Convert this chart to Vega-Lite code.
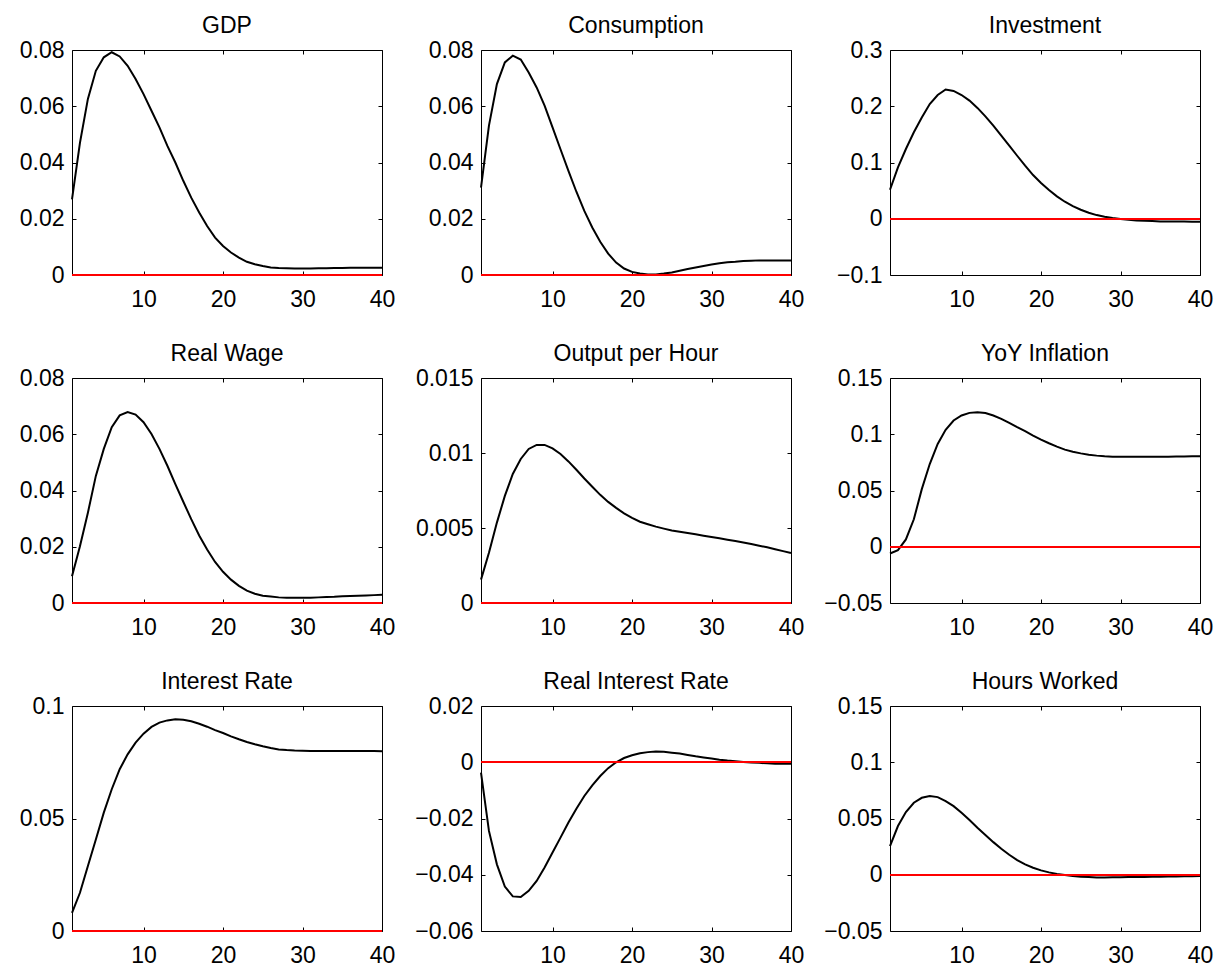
{
  "$schema": "https://vega.github.io/schema/vega-lite/v6.json",
  "background": "white",
  "padding": {"left": 18, "top": 14, "right": 5, "bottom": 5},
  "config": {
    "font": "Liberation Sans",
    "view": {"stroke": "black", "strokeWidth": 1},
    "axis": {"domain": false, "grid": false, "ticks": true, "tickColor": "black", "tickSize": -4, "tickWidth": 1, "labelFontSize": 23, "labelColor": "black", "labelFont": "Liberation Sans", "labelOverlap": false, "labelFlush": false, "minExtent": 0},
    "axisBottom": {"labelPadding": 17},
    "axisLeft": {"labelPadding": 12},
    "axisTop": {"labelPadding": 0, "maxExtent": 0},
    "axisRight": {"labelPadding": 0, "maxExtent": 0},
    "title": {"fontSize": 23, "fontWeight": "normal", "color": "black", "font": "Liberation Sans", "offset": 1, "baseline": "alphabetic", "anchor": "middle"}
  },
  "data": {"values": [
    {"t": 1, "gdp": 0.0269, "cons": 0.0311, "inv": 0.0516, "wage": 0.0095, "oph": 0.00156, "infl": -0.006, "ir": 0.0081, "rir": -0.0037, "hours": 0.0255},
    {"t": 2, "gdp": 0.047, "cons": 0.0531, "inv": 0.0914, "wage": 0.0202, "oph": 0.00335, "infl": -0.003, "ir": 0.017, "rir": -0.0244, "hours": 0.0433},
    {"t": 3, "gdp": 0.0626, "cons": 0.0679, "inv": 0.124, "wage": 0.0321, "oph": 0.00536, "infl": 0.0065, "ir": 0.0289, "rir": -0.0363, "hours": 0.0557},
    {"t": 4, "gdp": 0.0726, "cons": 0.0756, "inv": 0.1537, "wage": 0.0452, "oph": 0.00714, "infl": 0.0244, "ir": 0.0407, "rir": -0.0442, "hours": 0.064},
    {"t": 5, "gdp": 0.0774, "cons": 0.078, "inv": 0.18, "wage": 0.0548, "oph": 0.0086, "infl": 0.0512, "ir": 0.0526, "rir": -0.0477, "hours": 0.0684},
    {"t": 6, "gdp": 0.0792, "cons": 0.0766, "inv": 0.204, "wage": 0.0625, "oph": 0.0096, "infl": 0.0735, "ir": 0.063, "rir": -0.0479, "hours": 0.0699},
    {"t": 7, "gdp": 0.0777, "cons": 0.072, "inv": 0.22, "wage": 0.0667, "oph": 0.01027, "infl": 0.0914, "ir": 0.0719, "rir": -0.0457, "hours": 0.069},
    {"t": 8, "gdp": 0.0744, "cons": 0.0667, "inv": 0.2297, "wage": 0.0679, "oph": 0.01054, "infl": 0.1039, "ir": 0.0785, "rir": -0.0422, "hours": 0.0655},
    {"t": 9, "gdp": 0.0697, "cons": 0.0602, "inv": 0.2273, "wage": 0.067, "oph": 0.01054, "infl": 0.1122, "ir": 0.0837, "rir": -0.0374, "hours": 0.061},
    {"t": 10, "gdp": 0.0643, "cons": 0.0525, "inv": 0.22, "wage": 0.0643, "oph": 0.01031, "infl": 0.1167, "ir": 0.0877, "rir": -0.0321, "hours": 0.0551},
    {"t": 11, "gdp": 0.0584, "cons": 0.0447, "inv": 0.21, "wage": 0.0601, "oph": 0.00993, "infl": 0.119, "ir": 0.0907, "rir": -0.0268, "hours": 0.0486},
    {"t": 12, "gdp": 0.0525, "cons": 0.037, "inv": 0.197, "wage": 0.0548, "oph": 0.00944, "infl": 0.1196, "ir": 0.0926, "rir": -0.0214, "hours": 0.0418},
    {"t": 13, "gdp": 0.0459, "cons": 0.0296, "inv": 0.182, "wage": 0.0488, "oph": 0.00888, "infl": 0.1188, "ir": 0.0936, "rir": -0.0165, "hours": 0.0353},
    {"t": 14, "gdp": 0.04, "cons": 0.0228, "inv": 0.1656, "wage": 0.0423, "oph": 0.0083, "infl": 0.1167, "ir": 0.0941, "rir": -0.012, "hours": 0.029},
    {"t": 15, "gdp": 0.0335, "cons": 0.0169, "inv": 0.1478, "wage": 0.036, "oph": 0.00775, "infl": 0.1137, "ir": 0.0939, "rir": -0.0082, "hours": 0.0231},
    {"t": 16, "gdp": 0.0275, "cons": 0.0118, "inv": 0.13, "wage": 0.0298, "oph": 0.00721, "infl": 0.1101, "ir": 0.0932, "rir": -0.0049, "hours": 0.0178},
    {"t": 17, "gdp": 0.0222, "cons": 0.0076, "inv": 0.112, "wage": 0.024, "oph": 0.00674, "infl": 0.1063, "ir": 0.0921, "rir": -0.0021, "hours": 0.013},
    {"t": 18, "gdp": 0.0174, "cons": 0.0044, "inv": 0.0944, "wage": 0.019, "oph": 0.00634, "infl": 0.1027, "ir": 0.0908, "rir": 0.0, "hours": 0.0092},
    {"t": 19, "gdp": 0.0133, "cons": 0.0023, "inv": 0.0777, "wage": 0.0146, "oph": 0.00598, "infl": 0.0988, "ir": 0.0893, "rir": 0.0015, "hours": 0.0062},
    {"t": 20, "gdp": 0.0103, "cons": 0.0011, "inv": 0.0635, "wage": 0.0111, "oph": 0.00567, "infl": 0.0952, "ir": 0.088, "rir": 0.0025, "hours": 0.0039},
    {"t": 21, "gdp": 0.008, "cons": 0.0005, "inv": 0.051, "wage": 0.0083, "oph": 0.00542, "infl": 0.092, "ir": 0.0865, "rir": 0.0032, "hours": 0.0021},
    {"t": 22, "gdp": 0.0062, "cons": 0.0002, "inv": 0.0398, "wage": 0.0061, "oph": 0.00525, "infl": 0.089, "ir": 0.0852, "rir": 0.0036, "hours": 0.0006},
    {"t": 23, "gdp": 0.0047, "cons": 0.0002, "inv": 0.0303, "wage": 0.0044, "oph": 0.00509, "infl": 0.0863, "ir": 0.084, "rir": 0.0038, "hours": -0.0003},
    {"t": 24, "gdp": 0.0038, "cons": 0.0005, "inv": 0.0226, "wage": 0.0033, "oph": 0.00496, "infl": 0.0845, "ir": 0.083, "rir": 0.0037, "hours": -0.0012},
    {"t": 25, "gdp": 0.0032, "cons": 0.0009, "inv": 0.016, "wage": 0.0026, "oph": 0.00484, "infl": 0.083, "ir": 0.0821, "rir": 0.0034, "hours": -0.0018},
    {"t": 26, "gdp": 0.0027, "cons": 0.0015, "inv": 0.0107, "wage": 0.0023, "oph": 0.00475, "infl": 0.0818, "ir": 0.0813, "rir": 0.0031, "hours": -0.0021},
    {"t": 27, "gdp": 0.0025, "cons": 0.0021, "inv": 0.0065, "wage": 0.002, "oph": 0.00467, "infl": 0.081, "ir": 0.0807, "rir": 0.0026, "hours": -0.0024},
    {"t": 28, "gdp": 0.0024, "cons": 0.0027, "inv": 0.0036, "wage": 0.0019, "oph": 0.00458, "infl": 0.0804, "ir": 0.0804, "rir": 0.0021, "hours": -0.0024},
    {"t": 29, "gdp": 0.0023, "cons": 0.0032, "inv": 0.0012, "wage": 0.0019, "oph": 0.00449, "infl": 0.0801, "ir": 0.0802, "rir": 0.0017, "hours": -0.0023},
    {"t": 30, "gdp": 0.0023, "cons": 0.0037, "inv": -0.0006, "wage": 0.0019, "oph": 0.0044, "infl": 0.0801, "ir": 0.0801, "rir": 0.0013, "hours": -0.0022},
    {"t": 31, "gdp": 0.0023, "cons": 0.0042, "inv": -0.0018, "wage": 0.0019, "oph": 0.00431, "infl": 0.08, "ir": 0.08, "rir": 0.0009, "hours": -0.0021},
    {"t": 32, "gdp": 0.0024, "cons": 0.0045, "inv": -0.003, "wage": 0.002, "oph": 0.00422, "infl": 0.08, "ir": 0.08, "rir": 0.0006, "hours": -0.002},
    {"t": 33, "gdp": 0.0024, "cons": 0.0047, "inv": -0.0036, "wage": 0.0021, "oph": 0.00413, "infl": 0.08, "ir": 0.08, "rir": 0.0004, "hours": -0.0019},
    {"t": 34, "gdp": 0.0025, "cons": 0.005, "inv": -0.0042, "wage": 0.0022, "oph": 0.00404, "infl": 0.08, "ir": 0.08, "rir": 0.0001, "hours": -0.0018},
    {"t": 35, "gdp": 0.0025, "cons": 0.0051, "inv": -0.0047, "wage": 0.0024, "oph": 0.00393, "infl": 0.0801, "ir": 0.08, "rir": -0.0001, "hours": -0.0017},
    {"t": 36, "gdp": 0.0026, "cons": 0.0052, "inv": -0.0048, "wage": 0.0025, "oph": 0.00382, "infl": 0.0801, "ir": 0.08, "rir": -0.0002, "hours": -0.0016},
    {"t": 37, "gdp": 0.0026, "cons": 0.0052, "inv": -0.0049, "wage": 0.0026, "oph": 0.00371, "infl": 0.0802, "ir": 0.08, "rir": -0.0004, "hours": -0.0015},
    {"t": 38, "gdp": 0.0026, "cons": 0.0052, "inv": -0.005, "wage": 0.0027, "oph": 0.00359, "infl": 0.0803, "ir": 0.08, "rir": -0.0005, "hours": -0.0014},
    {"t": 39, "gdp": 0.0026, "cons": 0.0052, "inv": -0.0052, "wage": 0.0028, "oph": 0.00346, "infl": 0.0804, "ir": 0.08, "rir": -0.0005, "hours": -0.0013},
    {"t": 40, "gdp": 0.0026, "cons": 0.0052, "inv": -0.0053, "wage": 0.0029, "oph": 0.00333, "infl": 0.0804, "ir": 0.0799, "rir": -0.0005, "hours": -0.0012}
  ]},
  "columns": 3,
  "bounds": "flush",
  "spacing": {"row": 103, "column": 99},
  "concat": [
    {"title": "GDP", "width": 310, "height": 225,
     "layer": [
      {"mark": {"type": "line", "color": "black", "strokeWidth": 2},
       "encoding": {
        "x": {"field": "t", "type": "quantitative", "title": null, "scale": {"domain": [1, 40], "nice": false}, "axis": {"orient": "bottom", "values": [10, 20, 30, 40]}},
        "y": {"field": "gdp", "type": "quantitative", "title": null, "scale": {"domain": [0, 0.08], "nice": false, "zero": false}, "axis": {"orient": "left", "values": [0, 0.02, 0.04, 0.06, 0.08], "format": ".4~g"}}}},
      {"mark": {"type": "line", "strokeOpacity": 0},
       "encoding": {
        "x": {"field": "t", "type": "quantitative", "title": null, "scale": {"domain": [1, 40], "nice": false}, "axis": {"orient": "top", "values": [10, 20, 30, 40], "labels": false}},
        "y": {"field": "gdp", "type": "quantitative", "title": null, "scale": {"domain": [0, 0.08], "nice": false, "zero": false}, "axis": {"orient": "right", "values": [0, 0.02, 0.04, 0.06, 0.08], "labels": false}}}},
      {"mark": {"type": "rule", "color": "#ff0000", "strokeWidth": 1}, "encoding": {"y": {"datum": 0, "axis": null}}}
     ],
     "resolve": {"axis": {"x": "independent", "y": "independent"}}},
    {"title": "Consumption", "width": 310, "height": 225,
     "layer": [
      {"mark": {"type": "line", "color": "black", "strokeWidth": 2},
       "encoding": {
        "x": {"field": "t", "type": "quantitative", "title": null, "scale": {"domain": [1, 40], "nice": false}, "axis": {"orient": "bottom", "values": [10, 20, 30, 40]}},
        "y": {"field": "cons", "type": "quantitative", "title": null, "scale": {"domain": [0, 0.08], "nice": false, "zero": false}, "axis": {"orient": "left", "values": [0, 0.02, 0.04, 0.06, 0.08], "format": ".4~g"}}}},
      {"mark": {"type": "line", "strokeOpacity": 0},
       "encoding": {
        "x": {"field": "t", "type": "quantitative", "title": null, "scale": {"domain": [1, 40], "nice": false}, "axis": {"orient": "top", "values": [10, 20, 30, 40], "labels": false}},
        "y": {"field": "cons", "type": "quantitative", "title": null, "scale": {"domain": [0, 0.08], "nice": false, "zero": false}, "axis": {"orient": "right", "values": [0, 0.02, 0.04, 0.06, 0.08], "labels": false}}}},
      {"mark": {"type": "rule", "color": "#ff0000", "strokeWidth": 1}, "encoding": {"y": {"datum": 0, "axis": null}}}
     ],
     "resolve": {"axis": {"x": "independent", "y": "independent"}}},
    {"title": "Investment", "width": 310, "height": 225,
     "layer": [
      {"mark": {"type": "line", "color": "black", "strokeWidth": 2},
       "encoding": {
        "x": {"field": "t", "type": "quantitative", "title": null, "scale": {"domain": [1, 40], "nice": false}, "axis": {"orient": "bottom", "values": [10, 20, 30, 40]}},
        "y": {"field": "inv", "type": "quantitative", "title": null, "scale": {"domain": [-0.1, 0.3], "nice": false, "zero": false}, "axis": {"orient": "left", "values": [-0.1, 0, 0.1, 0.2, 0.3], "format": ".4~g"}}}},
      {"mark": {"type": "line", "strokeOpacity": 0},
       "encoding": {
        "x": {"field": "t", "type": "quantitative", "title": null, "scale": {"domain": [1, 40], "nice": false}, "axis": {"orient": "top", "values": [10, 20, 30, 40], "labels": false}},
        "y": {"field": "inv", "type": "quantitative", "title": null, "scale": {"domain": [-0.1, 0.3], "nice": false, "zero": false}, "axis": {"orient": "right", "values": [-0.1, 0, 0.1, 0.2, 0.3], "labels": false}}}},
      {"mark": {"type": "rule", "color": "#ff0000", "strokeWidth": 1}, "encoding": {"y": {"datum": 0, "axis": null}}}
     ],
     "resolve": {"axis": {"x": "independent", "y": "independent"}}},
    {"title": "Real Wage", "width": 310, "height": 225,
     "layer": [
      {"mark": {"type": "line", "color": "black", "strokeWidth": 2},
       "encoding": {
        "x": {"field": "t", "type": "quantitative", "title": null, "scale": {"domain": [1, 40], "nice": false}, "axis": {"orient": "bottom", "values": [10, 20, 30, 40]}},
        "y": {"field": "wage", "type": "quantitative", "title": null, "scale": {"domain": [0, 0.08], "nice": false, "zero": false}, "axis": {"orient": "left", "values": [0, 0.02, 0.04, 0.06, 0.08], "format": ".4~g"}}}},
      {"mark": {"type": "line", "strokeOpacity": 0},
       "encoding": {
        "x": {"field": "t", "type": "quantitative", "title": null, "scale": {"domain": [1, 40], "nice": false}, "axis": {"orient": "top", "values": [10, 20, 30, 40], "labels": false}},
        "y": {"field": "wage", "type": "quantitative", "title": null, "scale": {"domain": [0, 0.08], "nice": false, "zero": false}, "axis": {"orient": "right", "values": [0, 0.02, 0.04, 0.06, 0.08], "labels": false}}}},
      {"mark": {"type": "rule", "color": "#ff0000", "strokeWidth": 1}, "encoding": {"y": {"datum": 0, "axis": null}}}
     ],
     "resolve": {"axis": {"x": "independent", "y": "independent"}}},
    {"title": "Output per Hour", "width": 310, "height": 225,
     "layer": [
      {"mark": {"type": "line", "color": "black", "strokeWidth": 2},
       "encoding": {
        "x": {"field": "t", "type": "quantitative", "title": null, "scale": {"domain": [1, 40], "nice": false}, "axis": {"orient": "bottom", "values": [10, 20, 30, 40]}},
        "y": {"field": "oph", "type": "quantitative", "title": null, "scale": {"domain": [0, 0.015], "nice": false, "zero": false}, "axis": {"orient": "left", "values": [0, 0.005, 0.01, 0.015], "format": ".4~g"}}}},
      {"mark": {"type": "line", "strokeOpacity": 0},
       "encoding": {
        "x": {"field": "t", "type": "quantitative", "title": null, "scale": {"domain": [1, 40], "nice": false}, "axis": {"orient": "top", "values": [10, 20, 30, 40], "labels": false}},
        "y": {"field": "oph", "type": "quantitative", "title": null, "scale": {"domain": [0, 0.015], "nice": false, "zero": false}, "axis": {"orient": "right", "values": [0, 0.005, 0.01, 0.015], "labels": false}}}},
      {"mark": {"type": "rule", "color": "#ff0000", "strokeWidth": 1}, "encoding": {"y": {"datum": 0, "axis": null}}}
     ],
     "resolve": {"axis": {"x": "independent", "y": "independent"}}},
    {"title": "YoY Inflation", "width": 310, "height": 225,
     "layer": [
      {"mark": {"type": "line", "color": "black", "strokeWidth": 2},
       "encoding": {
        "x": {"field": "t", "type": "quantitative", "title": null, "scale": {"domain": [1, 40], "nice": false}, "axis": {"orient": "bottom", "values": [10, 20, 30, 40]}},
        "y": {"field": "infl", "type": "quantitative", "title": null, "scale": {"domain": [-0.05, 0.15], "nice": false, "zero": false}, "axis": {"orient": "left", "values": [-0.05, 0, 0.05, 0.1, 0.15], "format": ".4~g"}}}},
      {"mark": {"type": "line", "strokeOpacity": 0},
       "encoding": {
        "x": {"field": "t", "type": "quantitative", "title": null, "scale": {"domain": [1, 40], "nice": false}, "axis": {"orient": "top", "values": [10, 20, 30, 40], "labels": false}},
        "y": {"field": "infl", "type": "quantitative", "title": null, "scale": {"domain": [-0.05, 0.15], "nice": false, "zero": false}, "axis": {"orient": "right", "values": [-0.05, 0, 0.05, 0.1, 0.15], "labels": false}}}},
      {"mark": {"type": "rule", "color": "#ff0000", "strokeWidth": 1}, "encoding": {"y": {"datum": 0, "axis": null}}}
     ],
     "resolve": {"axis": {"x": "independent", "y": "independent"}}},
    {"title": "Interest Rate", "width": 310, "height": 225,
     "layer": [
      {"mark": {"type": "line", "color": "black", "strokeWidth": 2},
       "encoding": {
        "x": {"field": "t", "type": "quantitative", "title": null, "scale": {"domain": [1, 40], "nice": false}, "axis": {"orient": "bottom", "values": [10, 20, 30, 40]}},
        "y": {"field": "ir", "type": "quantitative", "title": null, "scale": {"domain": [0, 0.1], "nice": false, "zero": false}, "axis": {"orient": "left", "values": [0, 0.05, 0.1], "format": ".4~g"}}}},
      {"mark": {"type": "line", "strokeOpacity": 0},
       "encoding": {
        "x": {"field": "t", "type": "quantitative", "title": null, "scale": {"domain": [1, 40], "nice": false}, "axis": {"orient": "top", "values": [10, 20, 30, 40], "labels": false}},
        "y": {"field": "ir", "type": "quantitative", "title": null, "scale": {"domain": [0, 0.1], "nice": false, "zero": false}, "axis": {"orient": "right", "values": [0, 0.05, 0.1], "labels": false}}}},
      {"mark": {"type": "rule", "color": "#ff0000", "strokeWidth": 1}, "encoding": {"y": {"datum": 0, "axis": null}}}
     ],
     "resolve": {"axis": {"x": "independent", "y": "independent"}}},
    {"title": "Real Interest Rate", "width": 310, "height": 225,
     "layer": [
      {"mark": {"type": "line", "color": "black", "strokeWidth": 2},
       "encoding": {
        "x": {"field": "t", "type": "quantitative", "title": null, "scale": {"domain": [1, 40], "nice": false}, "axis": {"orient": "bottom", "values": [10, 20, 30, 40]}},
        "y": {"field": "rir", "type": "quantitative", "title": null, "scale": {"domain": [-0.06, 0.02], "nice": false, "zero": false}, "axis": {"orient": "left", "values": [-0.06, -0.04, -0.02, 0, 0.02], "format": ".4~g"}}}},
      {"mark": {"type": "line", "strokeOpacity": 0},
       "encoding": {
        "x": {"field": "t", "type": "quantitative", "title": null, "scale": {"domain": [1, 40], "nice": false}, "axis": {"orient": "top", "values": [10, 20, 30, 40], "labels": false}},
        "y": {"field": "rir", "type": "quantitative", "title": null, "scale": {"domain": [-0.06, 0.02], "nice": false, "zero": false}, "axis": {"orient": "right", "values": [-0.06, -0.04, -0.02, 0, 0.02], "labels": false}}}},
      {"mark": {"type": "rule", "color": "#ff0000", "strokeWidth": 1}, "encoding": {"y": {"datum": 0, "axis": null}}}
     ],
     "resolve": {"axis": {"x": "independent", "y": "independent"}}},
    {"title": "Hours Worked", "width": 310, "height": 225,
     "layer": [
      {"mark": {"type": "line", "color": "black", "strokeWidth": 2},
       "encoding": {
        "x": {"field": "t", "type": "quantitative", "title": null, "scale": {"domain": [1, 40], "nice": false}, "axis": {"orient": "bottom", "values": [10, 20, 30, 40]}},
        "y": {"field": "hours", "type": "quantitative", "title": null, "scale": {"domain": [-0.05, 0.15], "nice": false, "zero": false}, "axis": {"orient": "left", "values": [-0.05, 0, 0.05, 0.1, 0.15], "format": ".4~g"}}}},
      {"mark": {"type": "line", "strokeOpacity": 0},
       "encoding": {
        "x": {"field": "t", "type": "quantitative", "title": null, "scale": {"domain": [1, 40], "nice": false}, "axis": {"orient": "top", "values": [10, 20, 30, 40], "labels": false}},
        "y": {"field": "hours", "type": "quantitative", "title": null, "scale": {"domain": [-0.05, 0.15], "nice": false, "zero": false}, "axis": {"orient": "right", "values": [-0.05, 0, 0.05, 0.1, 0.15], "labels": false}}}},
      {"mark": {"type": "rule", "color": "#ff0000", "strokeWidth": 1}, "encoding": {"y": {"datum": 0, "axis": null}}}
     ],
     "resolve": {"axis": {"x": "independent", "y": "independent"}}}
  ]
}
